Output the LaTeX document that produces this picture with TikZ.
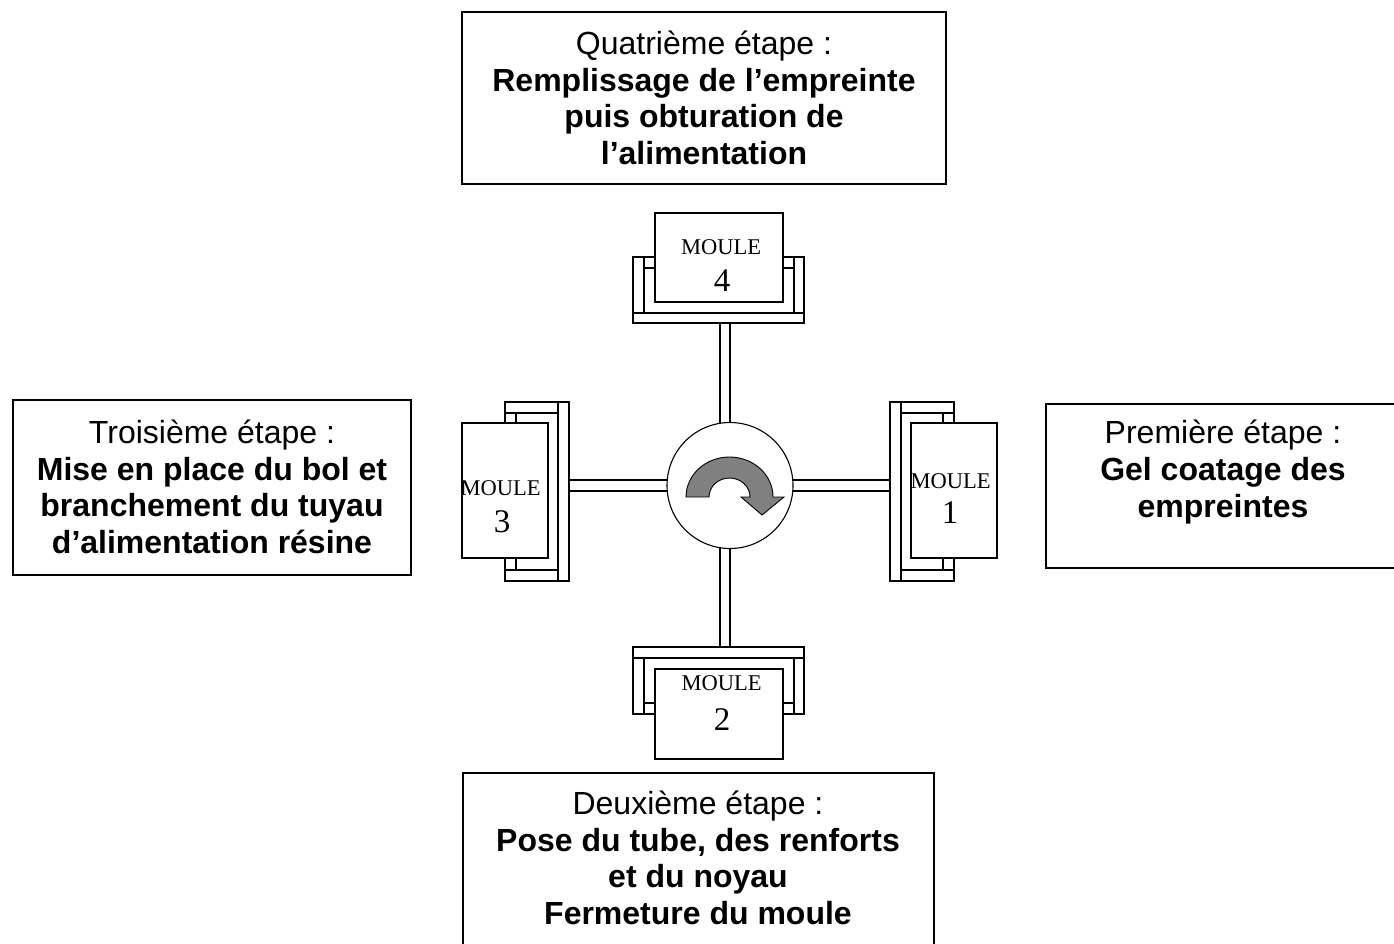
\documentclass[tikz,border=0pt]{standalone}
\usepackage{fontspec}
\setmainfont{Liberation Sans}
\newfontfamily\moulefont{Liberation Serif}
\begin{document}
\begin{tikzpicture}[x=1pt,y=-1pt,
  stepbox/.style={draw, line width=1.6pt},
  part/.style={draw, line width=1.1pt, fill=white},
  steptext/.style={align=center, font=\fontsize{32}{36.6}\selectfont, inner sep=0pt},
  mtext/.style={font=\moulefont\fontsize{22.5}{24}\selectfont, inner sep=0pt},
  mnum/.style={font=\moulefont\fontsize{33}{36}\selectfont, inner sep=0pt}]
\useasboundingbox (0,0) rectangle (1394,943);
\clip (0,0) rectangle (1394,943);
\fill[white] (0,0) rectangle (1394,943);

% step boxes
\draw[stepbox] (462,12) rectangle (946,184);
\node[steptext] (t4) at (704,98) {Quatrième étape :\\\textbf{Remplissage de l’empreinte}\\\textbf{puis obturation de}\\\textbf{l’alimentation}};
\draw[stepbox] (13,400) rectangle (411,575);
\node[steptext] (t3) at (212,487) {Troisième étape :\\\textbf{Mise en place du bol et}\\\textbf{branchement du tuyau}\\\textbf{d’alimentation résine}};
\draw[stepbox] (1046,404) rectangle (1404,568);
\node[steptext] (t1) at (1223,472) {Première étape :\\\textbf{Gel coatage des}\\\textbf{empreintes}};
\draw[stepbox] (463,773) rectangle (934,960);
\node[steptext] (t2) at (698,858) {Deuxième étape :\\\textbf{Pose du tube, des renforts}\\\textbf{et du noyau}\\\textbf{Fermeture du moule}};

% stems
\draw[part] (720,323) rectangle (730,450);
\draw[part] (720,520) rectangle (730,647);
\draw[part] (569,480) rectangle (690,491);
\draw[part] (770,480) rectangle (890,491);

% hub
\draw[part] (730,485.5) circle[radius=63pt];
\draw[fill=black!50, line width=0.9pt, line join=miter]
  (686,497) arc[start angle=180, end angle=0, x radius=43.5pt, y radius=40pt]
  -- (784,497) -- (762,515) -- (741,497) -- (750,497)
  arc[start angle=0, end angle=180, x radius=20.5pt, y radius=19pt] -- cycle;

% mould 4 (top)
\draw[part] (633,313) rectangle (804,323);
\draw[part] (633,257) rectangle (644,313);
\draw[part] (794,257) rectangle (804,313);
\draw[part] (644,257) rectangle (655,268);
\draw[part] (783,257) rectangle (794,268);
\draw[part] (655,213) rectangle (783,302);
\node[mtext] (m4) at (721,247) {MOULE};
\node[mnum] (n4) at (722,281) {4};

% mould 2 (bottom)
\draw[part] (633,647) rectangle (804,658);
\draw[part] (633,658) rectangle (644,714);
\draw[part] (794,658) rectangle (804,714);
\draw[part] (644,703) rectangle (655,714);
\draw[part] (783,703) rectangle (794,714);
\draw[part] (655,669) rectangle (783,759);
\node[mtext] (m2) at (721.5,683) {MOULE};
\node[mnum] (n2) at (722,720) {2};

% mould 1 (right)
\draw[part] (890,402) rectangle (901,581);
\draw[part] (901,402) rectangle (954,413);
\draw[part] (901,570) rectangle (954,581);
\draw[part] (943,413) rectangle (954,423);
\draw[part] (943,558) rectangle (954,570);
\draw[part] (911,423) rectangle (997,558);
\node[mtext] (m1) at (950.5,481) {MOULE};
\node[mnum] (n1) at (950,513) {1};

% mould 3 (left)
\draw[part] (558,402) rectangle (569,581);
\draw[part] (505,402) rectangle (558,413);
\draw[part] (505,570) rectangle (558,581);
\draw[part] (505,413) rectangle (516,423);
\draw[part] (505,558) rectangle (516,570);
\draw[part] (462,423) rectangle (548,558);
\node[mtext] (m3) at (500.5,488) {MOULE};
\node[mnum] (n3) at (502,522) {3};
\end{tikzpicture}
\end{document}
